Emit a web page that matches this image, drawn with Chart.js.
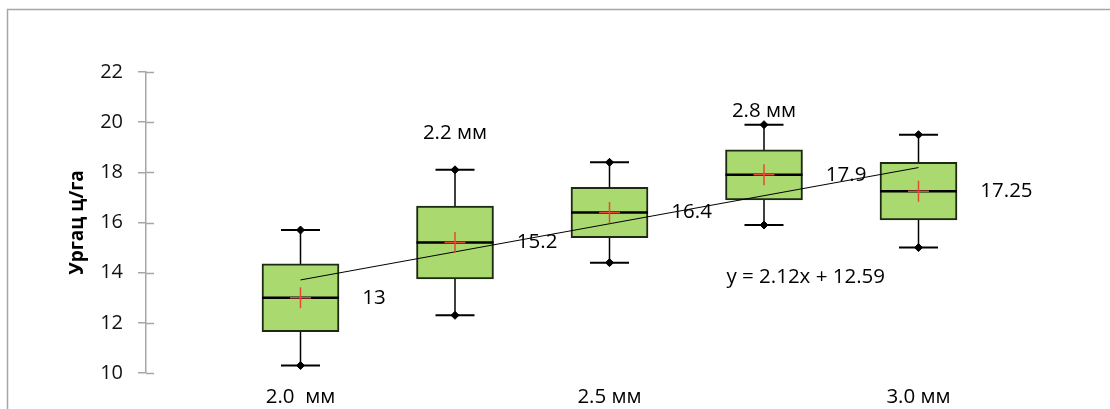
<!DOCTYPE html>
<html>
<head>
<meta charset="utf-8">
<script src="https://cdn.jsdelivr.net/npm/chart.js@4.4.1/dist/chart.umd.min.js"></script>
<style>
  html, body { margin: 0; padding: 0; background: #fff; }
  #wrap { position: relative; width: 1110px; height: 409px; }
</style>
</head>
<body>
<div id="wrap"><canvas id="chart"></canvas></div>
<script>
// categories (sieve size) and their place on the x axis
const categories = ['2.0  мм', '2.2 мм', '2.5 мм', '2.8 мм', '3.0 мм'];
const positions = [1, 2, 3, 4, 5];
// where the category names sit (y value), as in the original
const categoryLabelY = [9.05, 19.55, 9.05, 20.45, 9.05];

// box plot values, ц/га
const mins = [10.3, 12.3, 14.4, 15.9, 15.0];
const q1s = [11.65, 13.75, 15.4, 16.9, 16.1];
const medians = [13.0, 15.2, 16.4, 17.9, 17.25];
const q3s = [14.35, 16.65, 17.4, 18.9, 18.4];
const maxs = [15.7, 18.1, 18.4, 19.9, 19.5];
const means = [13, 15.2, 16.4, 17.9, 17.25];
const meanLabels = ['13', '15.2', '16.4', '17.9', '17.25'];

const yTicks = [10, 12, 14, 16, 18, 20, 22];
const equationText = 'y = 2.12x + 12.59';
const equationPos = { x: 4.27, y: 13.83 };

const FONT = '"Open Sans", "Noto Sans", sans-serif';

// least squares trend through the means
const fit = (() => {
    const n = positions.length;
    const mx = positions.reduce((a, b) => a + b, 0) / n;
    const my = means.reduce((a, b) => a + b, 0) / n;
    let sxy = 0, sxx = 0;
    positions.forEach((x, i) => { sxy += (x - mx) * (means[i] - my); sxx += (x - mx) * (x - mx); });
    const slope = sxy / sxx;
    return { slope, intercept: my - slope * mx };
})();

const whiskerData = [];
positions.forEach((x, i) => {
    whiskerData.push({ x, y: mins[i] }, { x, y: maxs[i] }, { x, y: null });
});
const endPoints = [];
positions.forEach((x, i) => endPoints.push({ x, y: mins[i] }, { x, y: maxs[i] }));

const frame = {
    id: 'frame',
    beforeDraw(chart) {
        const ctx = chart.ctx;
        ctx.save();
        ctx.strokeStyle = '#a6a6a6';
        ctx.lineWidth = 1.5;
        ctx.beginPath();
        ctx.moveTo(7.5, chart.height);
        ctx.lineTo(7.5, 9.5);
        ctx.lineTo(chart.width, 9.5);
        ctx.stroke();
        ctx.restore();
    }
};

// ticks of the y axis cross the axis line
const innerTicks = {
    id: 'innerTicks',
    afterDraw(chart) {
        const y = chart.scales.y;
        const ctx = chart.ctx;
        ctx.save();
        ctx.strokeStyle = '#a6a6a6';
        ctx.lineWidth = 1.5;
        yTicks.forEach(v => {
            const py = Math.round(y.getPixelForValue(v)) + 0.5;
            ctx.beginPath();
            ctx.moveTo(y.right, py);
            ctx.lineTo(y.right + 8, py);
            ctx.stroke();
        });
        ctx.restore();
    }
};

const labels = {
    id: 'labels',
    afterDatasetsDraw(chart) {
        const xs = chart.scales.x, ys = chart.scales.y;
        const ctx = chart.ctx;
        ctx.save();
        ctx.fillStyle = '#000';
        ctx.font = '20.5px ' + FONT;
        ctx.textBaseline = 'middle';
        ctx.textAlign = 'left';
        positions.forEach((x, i) => {
            ctx.fillText(meanLabels[i], xs.getPixelForValue(x + 0.4), ys.getPixelForValue(means[i]));
        });
        ctx.textAlign = 'center';
        positions.forEach((x, i) => {
            ctx.fillText(categories[i], xs.getPixelForValue(x), ys.getPixelForValue(categoryLabelY[i]));
        });
        ctx.fillText(equationText, xs.getPixelForValue(equationPos.x), ys.getPixelForValue(equationPos.y));
        ctx.restore();
    }
};

new Chart(document.getElementById('chart'), {
    type: 'scatter',
    data: {
        datasets: [
            {
                type: 'line',
                data: whiskerData,
                borderColor: '#000',
                borderWidth: 1.5,
                pointRadius: 0,
                spanGaps: false,
                order: 6
            },
            {
                type: 'bar',
                data: positions.map((x, i) => ({ x, y: [q1s[i], q3s[i]] })),
                backgroundColor: '#a9d96f',
                borderColor: '#1c2a14',
                borderWidth: 2,
                borderSkipped: false,
                barThickness: 77,
                grouped: false,
                order: 5
            },
            {
                data: positions.map((x, i) => ({ x, y: medians[i] })),
                pointStyle: 'line',
                pointRadius: 38.5,
                borderColor: '#000',
                borderWidth: 2.5,
                order: 4
            },
            {
                type: 'line',
                data: [1, 5].map(x => ({ x, y: fit.intercept + fit.slope * x })),
                borderColor: '#000',
                borderWidth: 1,
                pointRadius: 0,
                order: 3
            },
            {
                data: endPoints,
                pointStyle: 'line',
                pointRadius: 19.5,
                borderColor: '#000',
                borderWidth: 2,
                order: 2
            },
            {
                data: endPoints,
                pointStyle: 'rectRot',
                pointRadius: 4,
                backgroundColor: '#000',
                borderColor: '#000',
                borderWidth: 1,
                order: 1
            },
            {
                data: positions.map((x, i) => ({ x, y: means[i] })),
                pointStyle: 'cross',
                pointRadius: 10.5,
                borderColor: '#e8483a',
                borderWidth: 1.5,
                order: 0
            }
        ]
    },
    options: {
        responsive: true,
        maintainAspectRatio: false,
        animation: false,
        layout: { autoPadding: false, padding: { top: 72, bottom: 36, left: 0, right: 37 } },
        plugins: { legend: { display: false }, tooltip: { enabled: false } },
        scales: {
            x: { type: 'linear', min: 0, max: 6, offset: false, display: false },
            y: {
                min: 10,
                max: 22,
                afterFit: s => { s.width = 146; },
                afterBuildTicks: s => { s.ticks = yTicks.map(v => ({ value: v })); },
                ticks: { color: '#111', font: { family: FONT, size: 20 }, padding: 15 },
                grid: { drawOnChartArea: false, color: '#a6a6a6', lineWidth: 1.5, tickLength: 8 },
                border: { color: '#a6a6a6', width: 1.5 },
                title: {
                    display: true,
                    text: 'Ургац ц/га',
                    color: '#000',
                    font: { family: FONT, size: 19, weight: 'bold' },
                    padding: { top: 66, bottom: 0 }
                }
            }
        }
    },
    plugins: [frame, innerTicks, labels]
});
</script>
</body>
</html>
